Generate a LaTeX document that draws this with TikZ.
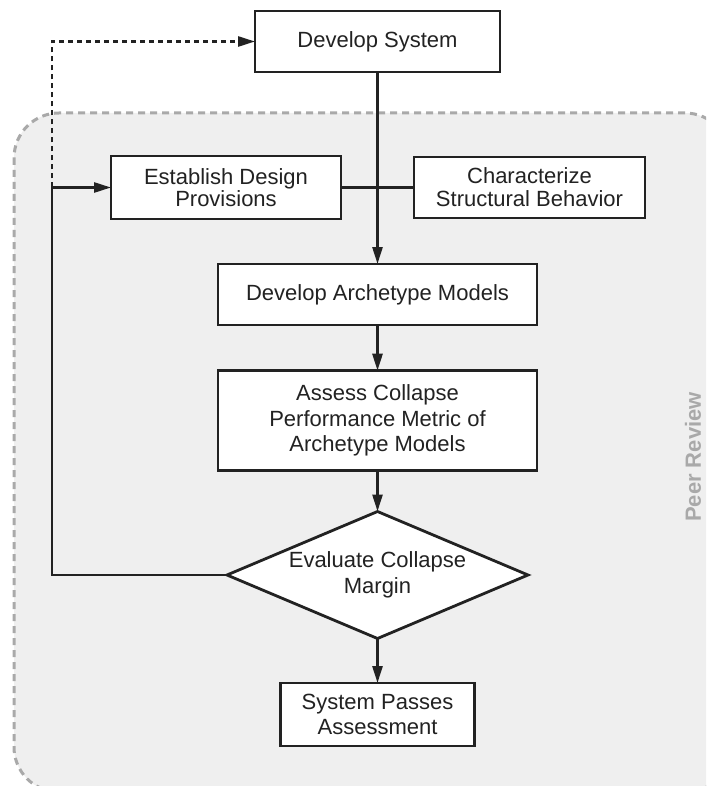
\documentclass[tikz,border=0pt]{standalone}
\usepackage{fontspec}
\setmainfont{Liberation Sans}
\usetikzlibrary{arrows.meta,shapes.geometric}
\definecolor{ink}{HTML}{222222}
\definecolor{panel}{HTML}{EFEFEF}
\definecolor{panelline}{HTML}{A9A9A9}
\begin{document}
\begin{tikzpicture}[x=1pt,y=-1pt,
  txt/.style={font=\fontsize{22}{25.5}\selectfont, text=ink, align=center},
  stepbox/.style={txt, draw=ink, line width=2.8pt, fill=white, inner sep=0pt, outer sep=0pt},
  decision/.style={stepbox, diamond, aspect=2.37, minimum width=301pt, minimum height=127pt},
  conn/.style={draw=ink, line width=2.6pt},
  arrow/.style={conn, -{Triangle[length=17pt,width=10pt]}},
  dotarrow/.style={arrow, dash pattern=on 5pt off 4pt}
]
\useasboundingbox (0,0) rectangle (706,786);

% peer review panel (right and bottom sides run off the page)
\begin{scope}
  \clip (0,0) rectangle (706,786);
  \path[fill=panel, draw=panelline, line width=3pt, dash pattern=on 7pt off 5pt, rounded corners=45pt]
    (14,113) rectangle (730,792);
\end{scope}
\node[txt, text=panelline, font=\fontsize{22}{25}\selectfont\bfseries, rotate=90] (peer) at (693,457) {Peer Review};

% process steps
\node[stepbox, minimum width=245pt, minimum height=61pt] (dev) at (377.5,41.5) {Develop System};
\node[stepbox, minimum width=230pt, minimum height=63pt, font=\fontsize{22}{22.5}\selectfont] (est) at (226,187.5) {Establish Design\\Provisions};
\node[stepbox, minimum width=231pt, minimum height=61pt, font=\fontsize{22}{23}\selectfont] (char) at (529.5,187.5) {Characterize\\Structural Behavior};
\node[stepbox, minimum width=319pt, minimum height=61pt] (arch) at (377.5,294.5) {Develop Archetype Models};
\node[stepbox, minimum width=319pt, minimum height=100pt] (assess) at (377.5,420.7) {Assess Collapse\\Performance Metric of\\Archetype Models};
\node[decision] (eval) at (377.5,575) {Evaluate Collapse\\Margin};
\node[stepbox, minimum width=194pt, minimum height=63pt] (pass) at (377.5,714.5) {System Passes\\Assessment};

% connectors
\coordinate (loop) at (52,187.5);
\draw[conn] (est.east) -- (char.west);
\draw[arrow] (dev.south) -- (arch.north);
\draw[arrow] (arch.south) -- (assess.north);
\draw[arrow] (assess.south) -- (eval.north);
\draw[arrow] (eval.south) -- (pass.north);
\draw[arrow] (eval.west) -| (loop) -- (est.west);
\draw[dotarrow] (loop) |- (dev.west);
\end{tikzpicture}
\end{document}
